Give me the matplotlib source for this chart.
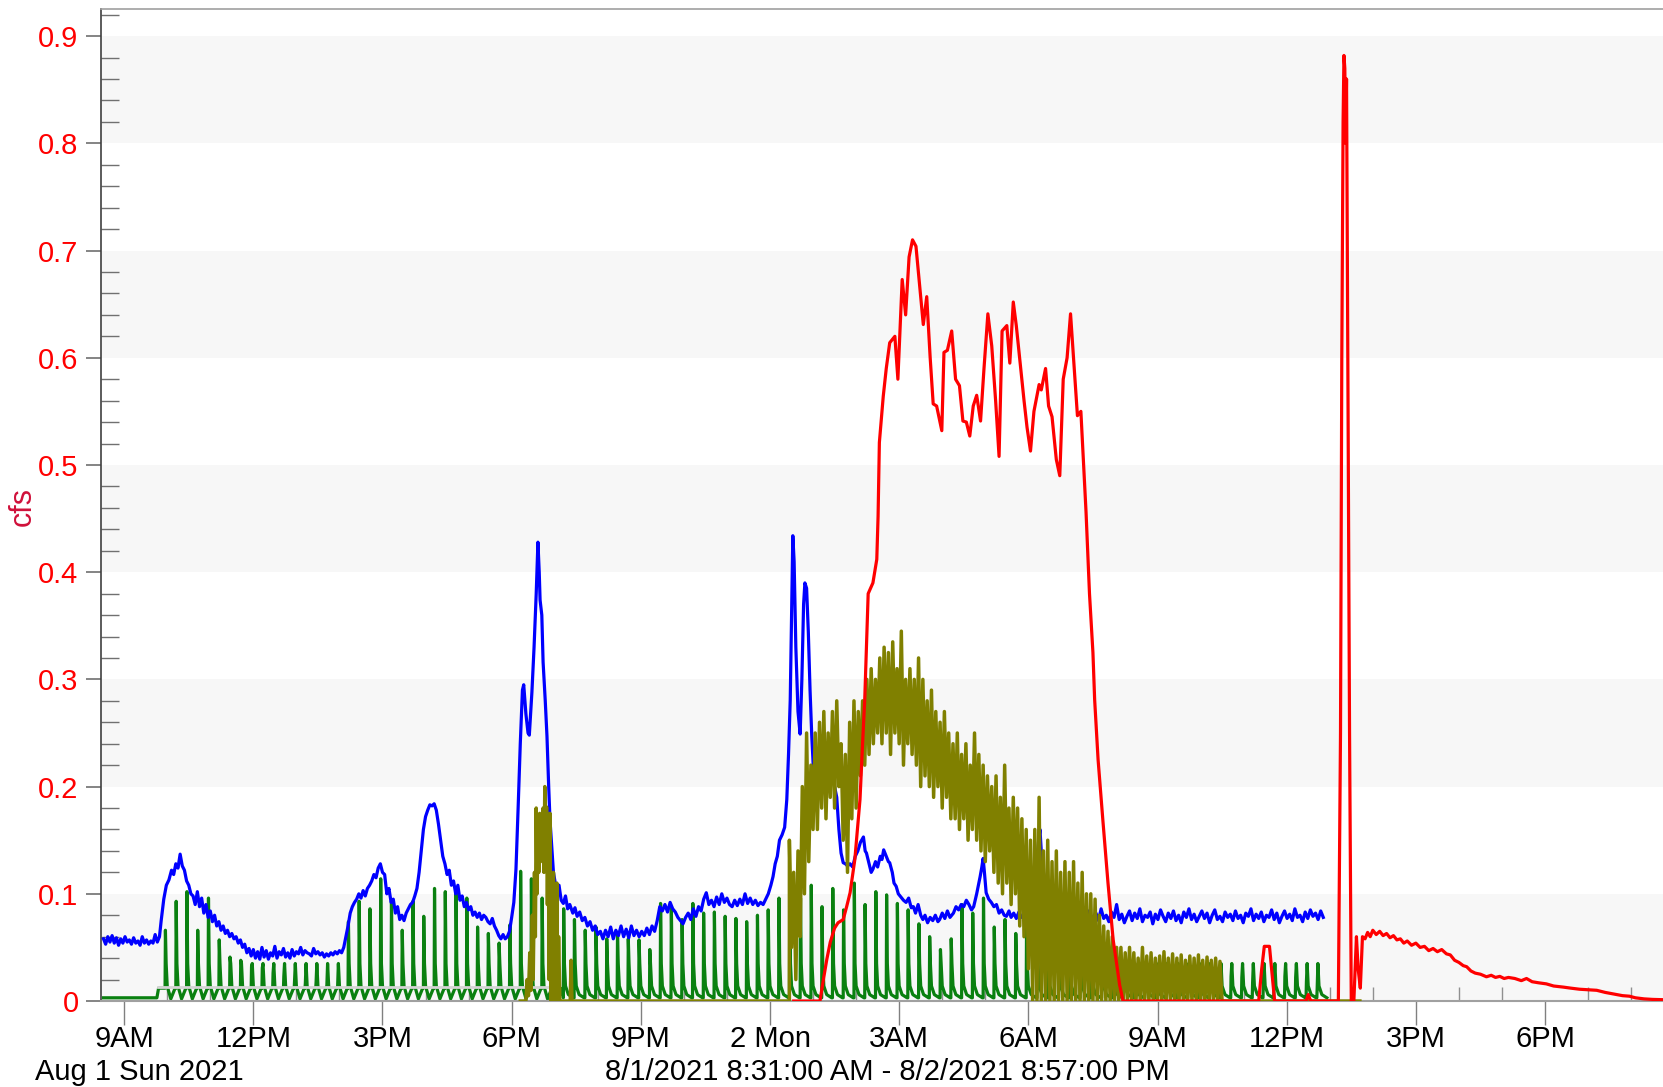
import numpy as np
import pandas as pd
import matplotlib
matplotlib.use('Agg')
import matplotlib.pyplot as plt
import matplotlib.dates as mdates
from matplotlib.ticker import MultipleLocator, FuncFormatter

plt.rcParams['font.family'] = ['Liberation Sans', 'DejaVu Sans']

# time is in hours after midnight 8/1/2021
blue_pts = [
    (8.52,.058),(8.57,.053),(8.62,.060),(8.67,.055),(8.72,.061),(8.77,.054),(8.82,.059),(8.87,.052),
    (8.92,.058),(8.97,.054),(9.02,.060),(9.07,.055),(9.12,.057),(9.17,.053),(9.22,.059),(9.27,.054),
    (9.32,.056),(9.37,.052),(9.42,.060),(9.47,.054),(9.52,.057),(9.57,.053),(9.62,.056),(9.67,.054),
    (9.72,.062),(9.77,.055),(9.82,.060),(9.86,.075),(9.92,.095),(9.98,.108),(10.04,.113),(10.1,.122),
    (10.15,.118),(10.2,.128),(10.25,.124),(10.3,.137),(10.35,.126),(10.4,.122),(10.45,.112),(10.5,.108),
    (10.55,.1),(10.6,.098),(10.65,.09),(10.7,.102),(10.75,.088),(10.8,.096),(10.85,.082),(10.9,.09),
    (10.95,.078),(11.0,.084),(11.05,.074),(11.1,.08),(11.15,.07),(11.2,.074),(11.25,.066),(11.3,.07),
    (11.35,.063),(11.4,.066),(11.45,.06),(11.5,.063),(11.55,.058),(11.6,.06),(11.65,.054),(11.7,.057),
    (11.75,.05),(11.8,.053),(11.85,.045),(11.9,.049),(11.95,.042),(12.0,.048),(12.05,.04),(12.1,.046),
    (12.15,.039),(12.2,.05),(12.25,.041),(12.3,.047),(12.35,.039),(12.4,.045),(12.45,.042),(12.5,.051),
    (12.55,.04),(12.6,.046),(12.65,.043),(12.7,.049),(12.75,.041),(12.8,.045),(12.85,.04),(12.9,.048),
    (12.95,.042),(13.0,.046),(13.05,.044),(13.1,.05),(13.15,.043),(13.2,.047),(13.25,.045),(13.3,.044),
    (13.35,.042),(13.4,.049),(13.45,.044),(13.5,.046),(13.55,.043),(13.6,.045),(13.65,.041),(13.7,.044),
    (13.75,.042),(13.8,.045),(13.85,.043),(13.9,.046),(13.95,.044),(14.0,.047),(14.05,.045),(14.1,.05),
    (14.15,.06),(14.2,.07),(14.25,.082),(14.3,.088),(14.35,.092),(14.4,.095),(14.45,.1),(14.5,.096),
    (14.55,.103),(14.6,.098),(14.65,.105),(14.7,.108),(14.75,.112),(14.8,.118),(14.85,.115),(14.9,.124),
    (14.95,.128),(15.0,.12),(15.05,.118),(15.1,.1),(15.15,.105),(15.2,.092),(15.25,.095),(15.3,.082),
    (15.35,.088),(15.4,.076),(15.45,.08),(15.5,.075),(15.55,.082),(15.6,.086),(15.65,.09),(15.7,.092),
    (15.75,.098),(15.8,.105),(15.85,.12),(15.9,.14),(15.95,.16),(16.0,.172),(16.05,.178),(16.1,.183),
    (16.15,.182),(16.2,.184),(16.25,.178),(16.3,.165),(16.35,.15),(16.4,.135),(16.45,.128),(16.5,.118),
    (16.55,.122),(16.6,.108),(16.65,.112),(16.7,.1),(16.75,.108),(16.8,.094),(16.85,.098),(16.9,.088),
    (16.95,.092),(17.0,.085),(17.05,.088),(17.1,.08),(17.15,.083),(17.2,.078),(17.25,.082),(17.3,.076),
    (17.35,.08),(17.4,.078),(17.45,.074),(17.5,.072),(17.55,.077),(17.6,.07),(17.65,.066),(17.7,.061),
    (17.75,.058),(17.8,.062),(17.85,.058),(17.9,.06),(17.95,.065),(18.0,.078),(18.05,.092),(18.1,.123),
    (18.15,.18),(18.2,.24),(18.25,.29),(18.28,.295),(18.33,.268),(18.38,.25),(18.41,.248),(18.47,.288),
    (18.52,.33),(18.57,.38),(18.61,.428),(18.64,.4),(18.66,.374),(18.7,.36),(18.73,.316),(18.78,.28),
    (18.82,.247),(18.86,.2),(18.89,.169),(18.93,.145),(18.97,.12),(19.0,.113),(19.05,.1),(19.1,.108),
    (19.15,.094),(19.2,.091),(19.25,.098),(19.3,.086),(19.35,.09),(19.42,.082),(19.47,.087),(19.52,.079),
    (19.58,.083),(19.64,.075),(19.7,.078),(19.76,.07),(19.82,.074),(19.88,.066),(19.94,.07),(20.0,.062),
    (20.06,.065),(20.12,.058),(20.18,.066),(20.24,.06),(20.3,.069),(20.36,.058),(20.42,.066),(20.48,.061),
    (20.54,.07),(20.6,.06),(20.66,.067),(20.72,.059),(20.78,.07),(20.84,.061),(20.9,.066),(20.96,.06),
    (21.02,.065),(21.08,.061),(21.14,.068),(21.2,.062),(21.26,.07),(21.32,.065),(21.38,.075),(21.44,.088),
    (21.5,.084),(21.56,.09),(21.62,.083),(21.68,.092),(21.74,.086),(21.8,.083),(21.86,.078),(21.92,.075),
    (21.98,.072),(22.04,.078),(22.1,.082),(22.16,.076),(22.22,.086),(22.28,.079),(22.34,.088),(22.4,.084),
    (22.46,.095),(22.52,.101),(22.58,.09),(22.64,.094),(22.7,.088),(22.76,.097),(22.82,.09),(22.88,.1),
    (22.94,.092),(23.0,.096),(23.06,.09),(23.12,.088),(23.18,.094),(23.24,.089),(23.3,.095),(23.36,.09),
    (23.42,.1),(23.48,.091),(23.54,.096),(23.6,.09),(23.66,.094),(23.72,.089),(23.78,.092),(23.84,.09),
    (23.9,.095),(23.96,.1),(24.02,.108),(24.07,.116),(24.12,.128),(24.17,.135),(24.22,.15),(24.28,.155),
    (24.34,.162),(24.39,.188),(24.43,.23),(24.47,.281),(24.5,.36),(24.53,.434),(24.56,.41),(24.6,.33),
    (24.65,.27),(24.7,.249),(24.74,.3),(24.78,.37),(24.81,.39),(24.85,.385),(24.89,.344),(24.93,.29),
    (24.97,.247),(25.01,.215),(25.05,.204),(25.1,.2),(25.15,.21),(25.2,.205),(25.25,.22),(25.3,.215),
    (25.35,.222),(25.4,.21),(25.45,.212),(25.5,.2),(25.55,.19),(25.6,.16),(25.65,.138),(25.7,.129),
    (25.75,.128),(25.8,.126),(25.86,.128),(25.92,.125),(25.98,.135),(26.04,.14),(26.1,.148),(26.17,.153),
    (26.21,.14),(26.24,.138),(26.3,.128),(26.35,.12),(26.39,.123),(26.45,.13),(26.5,.125),(26.56,.135),
    (26.6,.132),(26.64,.141),(26.7,.135),(26.75,.13),(26.78,.129),(26.84,.12),(26.88,.11),(26.93,.107),
    (26.98,.1),(27.04,.097),(27.1,.094),(27.16,.092),(27.22,.096),(27.28,.087),(27.33,.088),(27.38,.082),
    (27.44,.09),(27.5,.08),(27.55,.076),(27.6,.08),(27.66,.073),(27.72,.078),(27.78,.075),(27.84,.08),
    (27.9,.074),(27.94,.076),(28.0,.082),(28.06,.077),(28.12,.084),(28.18,.078),(28.26,.082),(28.32,.088),
    (28.38,.085),(28.44,.09),(28.5,.088),(28.56,.094),(28.62,.09),(28.68,.085),(28.73,.088),(28.8,.1),
    (28.85,.11),(28.88,.116),(28.92,.125),(28.95,.133),(28.98,.12),(29.02,.101),(29.08,.095),(29.14,.092),
    (29.2,.088),(29.26,.09),(29.32,.082),(29.38,.085),(29.44,.08),(29.49,.079),(29.55,.084),(29.6,.078),
    (29.66,.082),(29.72,.077),(29.78,.083),(29.84,.078),(29.9,.081),(29.96,.076),(30.02,.08),(30.08,.079),
    (30.14,.095),(30.2,.13),(30.24,.15),(30.27,.16),(30.3,.14),(30.35,.12),(30.4,.11),(30.43,.104),
    (30.5,.098),(30.56,.092),(30.6,.096),(30.65,.094),(30.7,.086),(30.75,.088),(30.8,.08),
]
# flat noisy blue tail, one reading every 0.06 h from 30.85 h
blue_tail = [.076,.083,.074,.081,.077,.085,.073,.08,.078,.084,.072,.079,.082,.075,.086,.077,.08,.074,
             .083,.078,.09,.076,.081,.073,.079,.084,.075,.082,.077,.086,.074,.08,.078,.083,.072,.081,
             .076,.085,.079,.074,.082,.077,.084,.075,.08,.073,.083,.078,.086,.076,.081,.074,.079,.084,
             .077,.082,.073,.08,.085,.076,.079,.074,.083,.078,.081,.075,.084,.077,.08,.073,.082,.079,
             .086,.075,.081,.077,.083,.074,.08,.078,.085,.076,.082,.073,.079,.084,.077,.081,.075,.086,
             .078,.08,.074,.083,.077,.085,.079,.082,.076,.084,.078]

red_pts = [
    (24.55,0),(25.16,0),(25.24,.02),(25.32,.039),(25.4,.055),(25.5,.068),(25.58,.073),(25.7,.076),
    (25.78,.088),(25.86,.101),(25.97,.132),(26.09,.188),(26.15,.24),(26.2,.281),(26.24,.33),(26.28,.38),
    (26.39,.39),(26.48,.412),(26.51,.452),(26.54,.521),(26.63,.564),(26.7,.59),(26.78,.614),(26.9,.62),
    (26.97,.58),(27.07,.673),(27.15,.64),(27.23,.694),(27.31,.71),(27.39,.704),(27.47,.67),(27.56,.631),
    (27.64,.657),(27.72,.6),(27.79,.557),(27.87,.555),(27.99,.532),(28.04,.605),(28.12,.607),(28.22,.625),
    (28.31,.58),(28.4,.574),(28.48,.541),(28.56,.54),(28.64,.527),(28.72,.555),(28.8,.565),(28.89,.541),
    (28.97,.59),(29.06,.641),(29.15,.611),(29.24,.56),(29.32,.508),(29.39,.625),(29.5,.63),(29.57,.595),
    (29.65,.652),(29.72,.63),(29.8,.599),(29.9,.56),(29.97,.535),(30.05,.513),(30.13,.55),(30.25,.575),
    (30.3,.57),(30.4,.59),(30.47,.555),(30.55,.545),(30.65,.505),(30.73,.49),(30.81,.58),(30.9,.6),
    (30.98,.641),(31.05,.6),(31.14,.546),(31.22,.55),(31.34,.456),(31.42,.38),(31.5,.325),(31.54,.281),
    (31.62,.225),(31.73,.169),(31.85,.11),(31.97,.057),(32.05,.035),(32.12,.015),(32.2,0),(35.35,0),
    (35.42,.03),(35.48,.051),(35.6,.051),(35.66,.025),(35.72,0),(36.45,0),(36.5,.006),(36.56,0),
    (37.2,0),(37.25,.25),(37.28,.6),(37.31,.82),(37.33,.882),(37.35,.87),(37.37,.8),(37.39,.86),
    (37.42,.6),(37.46,.25),(37.5,0),(37.56,0),(37.62,.06),(37.66,.03),(37.71,.012),(37.76,.06),
    (37.82,.058),(37.88,.064),(37.94,.06),(38.0,.066),(38.08,.062),(38.16,.065),(38.24,.061),(38.32,.063),
    (38.4,.059),(38.48,.061),(38.56,.057),(38.64,.058),(38.72,.054),(38.8,.056),(38.9,.052),(39.0,.054),
    (39.1,.05),(39.2,.051),(39.3,.047),(39.4,.049),(39.5,.046),(39.6,.048),(39.71,.044),(39.8,.043),
    (39.9,.038),(40.0,.036),(40.1,.033),(40.18,.032),(40.28,.028),(40.38,.026),(40.5,.025),(40.64,.0226),
    (40.75,.024),(40.85,.022),(40.95,.023),(41.05,.021),(41.15,.022),(41.3,.021),(41.45,.019),(41.57,.021),
    (41.7,.018),(41.85,.017),(42.03,.016),(42.2,.014),(42.42,.013),(42.6,.012),(42.8,.011),(43.0,.0105),
    (43.2,.01),(43.4,.008),(43.6,.0065),(43.8,.005),(43.96,.0045),(44.1,.003),(44.3,.002),(44.5,.0015),
    (44.95,.001),
]

# green pump cycles: one spike every 15 min starting 9.95 h, peak heights
green_start = 9.95
green_peaks = [.066,.093,.102,.066,.096,.057,.041,.038,.032,.031,
               .026,.023,.02,.0165,.018,.015,.014,.074,.093,.086,
               .114,.093,.066,.093,.079,.105,.102,.105,.096,.069,
               .063,.054,.071,.121,.114,.096,.094,.086,.076,
               .066,.069,.058,.062,.058,.057,.048,.091,.088,.076,.091,
               .082,.083,.079,.077,.074,.080,.085,.096,.095,.096,
               .108,.088,.105,.085,.11,.09,.102,.099,.091,.085,
               .072,.06,.048,.058,.09,.082,.096,.069,.076,.063,
               .072,.09,.065,.05,.07,.06,.05,.045,.044,.035,
               .031,.03,.028,.03,.028,.027,.028,.027,.023,.023,
               .022,.017,.018,.022,.023,.022,.018,.012]
grey_level = [(9.78,.0135),(18.93,.0135)]

olive_burst1 = [
    (18.2,0),(18.33,0),(18.36,.02),(18.39,.005),(18.42,.045),(18.45,.01),(18.48,.08),(18.5,.02),
    (18.53,.12),(18.55,.06),(18.57,.18),(18.59,.1),(18.61,.157),(18.63,.12),(18.65,.175),(18.67,.13),
    (18.69,.141),(18.71,.16),(18.73,.18),(18.75,.12),(18.77,.2),(18.79,.138),(18.81,.181),(18.83,.09),
    (18.85,.17),(18.87,.02),(18.89,.175),(18.91,0),(18.93,.107),(18.95,0),(18.97,.12),(18.99,0),
    (19.01,.09),(19.03,0),(19.05,.11),(19.07,0),(19.09,.06),(19.12,0),(19.36,0),(19.38,.038),
    (19.4,0),(24.45,0),
]
# olive second run: highs every 0.1 h from 24.45 h, lows 3 min later
olive_hi = [.15,.12,.14,.2,.25,.22,.25,.26,.27,.25,
            .27,.28,.24,.23,.26,.28,.27,.28,.3,.31,
            .3,.32,.33,.325,.335,.31,.345,.3,.31,.3,
            .32,.3,.28,.29,.27,.26,.27,.25,.24,.25,
            .23,.24,.22,.25,.23,.22,.21,.2,.21,.19,
            .22,.18,.19,.18,.17,.16,.15,.16,.19,.14,
            .15,.13,.14,.12,.13,.12,.13,.11,.12,.1,
            .1,.095,.08,.07,.065,.06,.05,.05,.045,.05,
            .045,.04,.05,.042,.045,.04,.042,.046,.04,.044,
            .04,.043,.038,.042,.04,.043,.038,.041,.038,.04,
            .037]
olive_lo = [.05,.02,.06,.1,.13,.16,.16,.18,.17,.19,
            .18,.2,.15,.12,.17,.18,.21,.22,.23,.24,
            .25,.24,.25,.23,.25,.24,.22,.24,.23,.22,
            .2,.21,.2,.19,.2,.18,.19,.17,.17,.16,
            .17,.15,.16,.15,.14,.13,.14,.12,.11,.1,
            .11,.09,.1,.07,.06,.03,0,0,0,0,
            0,0,0,0,0,0,0,0,0,0,
            0,0,0,0,0,0,0,0,0,0,
            0,0,0,0,0,0,0,0,0,0,
            0,0,0,0,0,0,0,0,0,0,
            0]
olive_end = [(34.5,0),(37.7,0)]

base = pd.Timestamp('2021-08-01')
def to_dt(h):
    return (base + pd.to_timedelta(np.asarray(h, dtype=float), unit='h')).values

# blue
bh = [p[0] for p in blue_pts] + list(30.85 + 0.06*np.arange(len(blue_tail)))
bv = [p[1] for p in blue_pts] + blue_tail

# green line through each cycle
gh, gv = [8.52, 9.76, 9.8], [.003, .003, .012]
for i, pk in enumerate(green_peaks):
    t = green_start + 0.25*i
    if t < 19.0:
        shape = [(0, .012), (0.5, pk), (1.5, .035), (3, .014), (8, .002), (14, .012)]
    else:
        shape = [(0, .003), (0.5, pk), (1.5, .035), (3, .014), (7, .006), (14, .003)]
    for m, v in shape:
        gh.append(t + m/60.0)
        gv.append(v)

# olive
oh = [p[0] for p in olive_burst1]
ov = [p[1] for p in olive_burst1]
for i in range(len(olive_hi)):
    t = 24.45 + 0.1*i
    oh += [t, t + 0.05]
    ov += [olive_hi[i], olive_lo[i]]
oh += [p[0] for p in olive_end]
ov += [p[1] for p in olive_end]

fig = plt.figure(figsize=(16.63, 10.87), dpi=100)
ax = fig.add_axes([0.0606, 0.0791, 0.9394, 0.9123])

for lo in [0, 0.2, 0.4, 0.6, 0.8]:
    ax.axhspan(lo, lo + 0.1, color='#f7f7f7', zorder=0, lw=0)

ax.plot(to_dt(gh), gv, color='#0a8010', lw=2.3, zorder=2)
ax.plot(to_dt([p[0] for p in grey_level]), [p[1] for p in grey_level],
        color='#d4d4d4', lw=2.0, zorder=2.5)
ax.plot(to_dt(bh), bv, color='#0000ff', lw=2.3, zorder=3)
ax.plot(to_dt(oh), ov, color='#808000', lw=2.5, zorder=4)
ax.plot(to_dt([p[0] for p in red_pts]), [p[1] for p in red_pts], color='#ff0000', lw=2.3, zorder=5)

ax.set_xlim(to_dt([8.457])[0], to_dt([44.74])[0])
ax.set_ylim(0, 0.925)

ax.xaxis.set_major_locator(mdates.HourLocator(byhour=range(0, 24, 3)))
ax.xaxis.set_minor_locator(mdates.HourLocator())

def hour_label(x, pos):
    d = mdates.num2date(x + 1e-6)
    if d.hour == 0:
        return f'{d.day} {d:%a}'
    h12 = d.hour % 12 or 12
    return f"{h12}{'AM' if d.hour < 12 else 'PM'}"

ax.xaxis.set_major_formatter(FuncFormatter(hour_label))
ax.yaxis.set_major_locator(MultipleLocator(0.1))
ax.yaxis.set_minor_locator(MultipleLocator(0.02))
ax.yaxis.set_major_formatter(FuncFormatter(lambda v, p: '0' if abs(v) < 1e-9 else f'{v:.1f}'))

ax.tick_params(axis='y', which='major', direction='out', length=11, width=1.2, color='#707070',
               labelsize=21, labelcolor='#ff0000', pad=5)
ax.tick_params(axis='y', which='minor', direction='in', length=13, width=1, color='#707070')
ax.tick_params(axis='x', which='major', direction='out', length=17, width=1, color='#808080',
               labelsize=21, pad=0)
ax.tick_params(axis='x', which='minor', direction='in', length=10, width=1, color='#909090')

ax.spines['right'].set_visible(False)
ax.spines['left'].set_color('#404040')
ax.spines['left'].set_linewidth(1.2)
ax.spines['bottom'].set_color('#a0a0a0')
ax.spines['bottom'].set_linewidth(1.5)
ax.spines['top'].set_color('#a0a0a0')
ax.spines['top'].set_linewidth(1.2)

fig.text(23/1663, 1 - 507/1087, 'cfs', rotation=90, color='#d0103a', fontsize=22,
         ha='center', va='center')
fig.text(35/1663, 1 - 1072/1087, 'Aug 1 Sun 2021', fontsize=21, ha='left', va='center')
fig.text(887/1663, 1 - 1072/1087, '8/1/2021 8:31:00 AM - 8/2/2021 8:57:00 PM', fontsize=21,
         ha='center', va='center')

fig.savefig('out.png', dpi=100)
